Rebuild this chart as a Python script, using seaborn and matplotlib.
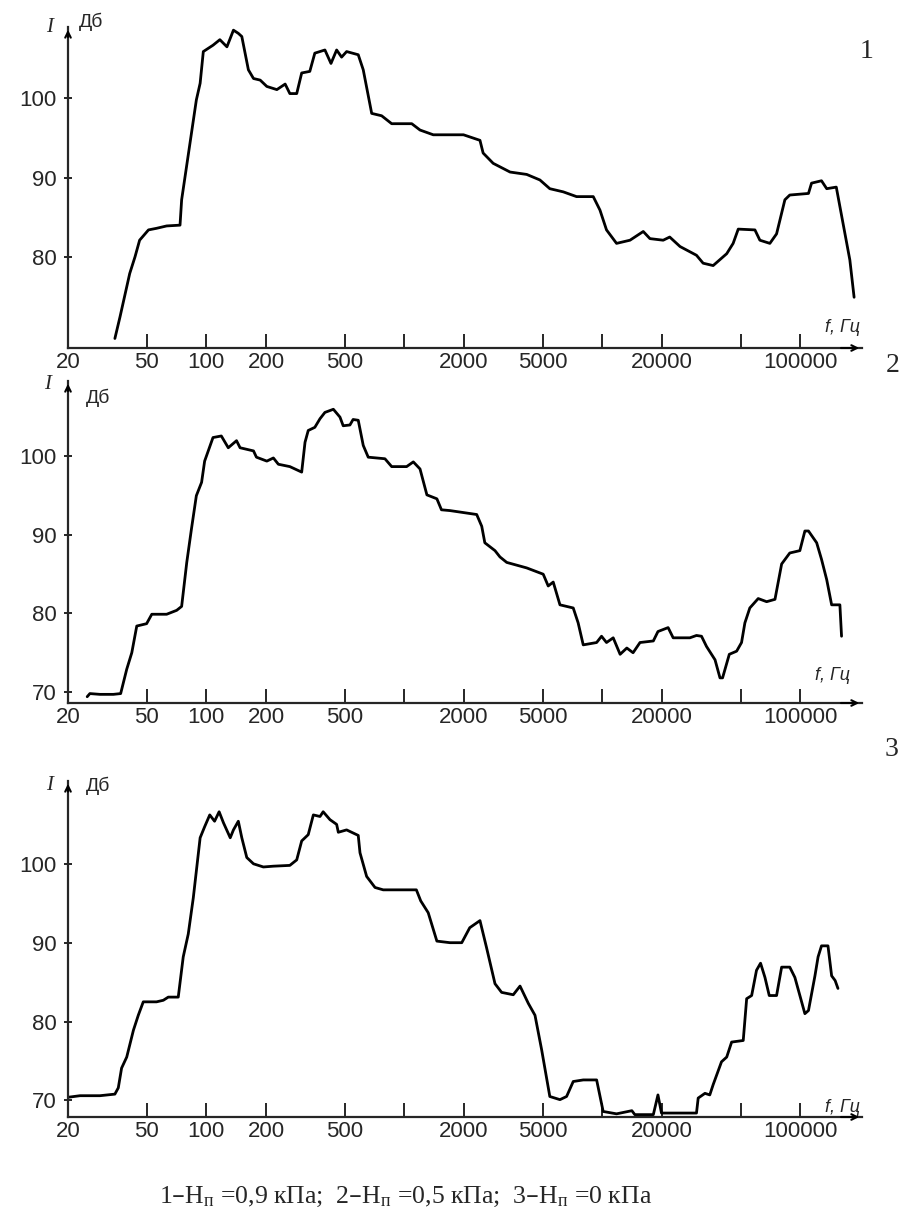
import numpy as np
import seaborn as sns
import matplotlib.pyplot as plt
import matplotlib.ticker as mticker

# =============================================================================
# data (frequency, Hz / level, dB)
f1 = [34.5, 36.6, 41, 43.6, 46, 51, 56, 63, 73.6, 75, 82.6, 89, 93, 96.5, 108,
      117, 127, 137, 145, 151, 163, 173, 187, 202, 227, 250, 264, 286, 303, 333,
      353, 397, 426, 455, 482, 511, 585, 620, 684, 768, 863, 1090, 1200, 1400, 1700,
      1990, 2410, 2500, 2810, 3420, 4150, 4840, 5430, 6350, 7410, 9000, 9730, 10500,
      11800, 13800, 16100, 17400, 20300, 21900, 24700, 29900, 32300, 36300, 42500,
      45800, 48600, 59000, 62500, 70200, 75900, 83600, 88500, 110000, 114000, 128000,
      136000, 152000, 178000, 187000]
I1 = [69.7, 72.4, 77.9, 80.0, 82.1, 83.4, 83.6, 83.9, 84.0, 87.2, 94.3, 99.8, 101.9, 105.9, 106.7,
      107.4, 106.5, 108.6, 108.2, 107.8, 103.6, 102.5, 102.3, 101.5, 101.1, 101.8, 100.6, 100.6, 103.2, 103.4,
      105.7, 106.1, 104.4, 106.1, 105.2, 105.9, 105.5, 103.6, 98.1, 97.8, 96.8, 96.8, 96.0, 95.4, 95.4,
      95.4, 94.7, 93.1, 91.8, 90.7, 90.4, 89.7, 88.6, 88.2, 87.6, 87.6, 85.9, 83.4,
      81.7, 82.1, 83.2, 82.3, 82.1, 82.5, 81.3, 80.2, 79.2, 78.9, 80.4,
      81.7, 83.5, 83.4, 82.1, 81.7, 82.9, 87.2, 87.8, 88.0, 89.3, 89.6,
      88.6, 88.8, 79.6, 74.9]

f2 = [25, 25.8, 29, 33.9, 36.9, 39.6, 42, 44.5, 49.9, 53, 63, 70.8, 75, 79.6, 84,
      89, 94.6, 98, 108, 119, 129, 142, 148, 173, 179, 202, 218, 231, 264, 303,
      315, 327, 353, 375, 397, 438, 473, 491, 531, 551, 585, 620, 657, 798, 863,
      1027, 1110, 1200, 1300, 1460, 1540, 1700, 2320, 2460, 2550, 2870, 3040, 3290,
      4150, 5030, 5330, 5650, 6110, 7130, 7550, 8010, 9360, 9910, 10500, 11350,
      12300, 13300, 14300, 15500, 18100, 19100, 21500, 22800, 27700, 29900, 31700,
      33600, 37100, 39300, 40500, 43800, 47700, 50500, 52500, 55600, 61300, 67600,
      74500, 80500, 88500, 99500, 105500, 110000, 121000, 128000, 136000, 144000,
      158500, 161600]
I2 = [69.4, 69.8, 69.7, 69.7, 69.8, 72.9, 75.0, 78.4, 78.7, 79.9, 79.9, 80.4, 80.9, 86.5, 90.7,
      95.0, 96.7, 99.4, 102.4, 102.6, 101.1, 102.0, 101.1, 100.7, 99.9, 99.4, 99.8, 99.0, 98.7, 98.0,
      101.8, 103.3, 103.7, 104.8, 105.6, 106.0, 105.0, 103.9, 104.0, 104.7, 104.6, 101.4, 99.9, 99.7, 98.7,
      98.7, 99.3, 98.4, 95.1, 94.6, 93.2, 93.1, 92.6, 91.1, 89.0, 88.0, 87.2, 86.5,
      85.8, 85.0, 83.5, 84.0, 81.1, 80.7, 78.8, 76.0, 76.3, 77.1, 76.3, 76.9,
      74.8, 75.6, 75.0, 76.3, 76.5, 77.7, 78.2, 76.9, 76.9, 77.2, 77.1,
      75.8, 74.1, 71.8, 71.8, 74.8, 75.2, 76.3, 78.8, 80.7, 81.9, 81.5,
      81.8, 86.3, 87.7, 88.0, 90.5, 90.5, 89.0, 86.9, 84.3, 81.1,
      81.1, 77.1]

f3 = [20, 23, 29, 34.5, 35.9, 37.3, 39.6, 42.8, 45.3, 48, 56, 60.6, 64.2, 72.1, 76.4,
      81, 85.9, 93, 98, 104, 110, 116, 122, 132, 137, 145, 151, 160, 173, 194,
      218, 264, 286, 303, 327, 347, 375, 389, 421, 455, 464, 511, 585, 597, 645,
      711, 782, 1150, 1210, 1320, 1460, 1700, 1950, 2140, 2410, 2600, 2870, 3100,
      3550, 3840, 4230, 4570, 4940, 5430, 6110, 6600, 7130, 8010, 9360, 10100,
      11800, 14100, 14600, 18100, 19100, 19900, 29900, 30500, 33000, 34900, 36300,
      40000, 42500, 45000, 51500, 53600, 56800, 60100, 63000, 66300, 69700, 75900,
      80500, 88500, 93900, 105500, 110000, 118600, 123000, 128000, 138000, 144000,
      150000, 155000]
I3 = [70.4, 70.6, 70.6, 70.8, 71.6, 74.1, 75.5, 78.9, 80.8, 82.5, 82.5, 82.7, 83.1, 83.1, 88.2,
      91.1, 95.7, 103.3, 104.7, 106.2, 105.4, 106.6, 105.2, 103.3, 104.3, 105.4, 103.3, 100.8, 100.0, 99.6,
      99.7, 99.8, 100.5, 102.9, 103.7, 106.2, 106.0, 106.6, 105.6, 105.0, 104.0, 104.3, 103.6, 101.4, 98.4,
      97.0, 96.7, 96.7, 95.3, 93.8, 90.2, 90.0, 90.0, 91.9, 92.8, 89.4, 84.8, 83.7,
      83.4, 84.5, 82.3, 80.8, 76.4, 70.5, 70.1, 70.5, 72.4, 72.6, 72.6, 68.6,
      68.3, 68.7, 68.2, 68.2, 70.7, 68.4, 68.4, 70.3, 70.9, 70.7, 72.0,
      74.9, 75.5, 77.4, 77.6, 82.9, 83.3, 86.5, 87.4, 85.6, 83.3, 83.3,
      86.9, 86.9, 85.6, 81.0, 81.4, 85.8, 88.2, 89.6, 89.6, 85.8,
      85.2, 84.2]

x_ticks = [20, 50, 100, 200, 500, 1000, 2000, 5000, 10000, 20000, 50000, 100000]
x_labels = ['20', '50', '100', '200', '500', '', '2000', '5000', '', '20000', '', '100000']
y_ticks = [[80, 90, 100], [70, 80, 90, 100], [70, 80, 90, 100]]
caption = ('1–Н$_{\\mathregular{п}}$ =0,9 кПа;  2–Н$_{\\mathregular{п}}$ =0,5 кПа;  '
           '3–Н$_{\\mathregular{п}}$ =0 кПа')

# =============================================================================
sns.set_style('ticks')
plt.rcParams['font.family'] = ['Liberation Sans', 'DejaVu Sans']
plt.rcParams['mathtext.default'] = 'regular'

W, H = 903, 1213
fig = plt.figure(figsize=(W / 100, H / 100), dpi=100)


def px(x, y):
    return x / W, 1 - y / H


# axes boxes in pixels: left, top, right, bottom
boxes = [(68, 27, 862, 348), (68, 381, 862, 703), (68, 781, 862, 1117)]
ylims = [(68.5, 109.0), (68.6, 109.6), (67.9, 110.5)]
series = [(f1, I1), (f2, I2), (f3, I3)]

for k, ((l, t, r, b), (fx, iy)) in enumerate(zip(boxes, series)):
    ax = fig.add_axes([l / W, 1 - b / H, (r - l) / W, (b - t) / H])
    sns.lineplot(x=np.array(fx), y=np.array(iy), ax=ax, color='black', lw=2.0,
                 estimator=None, sort=False)
    ax.set_xscale('log')
    ax.set_xlim(20, 2.05e5)
    ax.set_ylim(*ylims[k])
    ax.set_xticks(x_ticks)
    ax.set_xticklabels(x_labels)
    ax.xaxis.set_minor_locator(mticker.NullLocator())
    ax.set_yticks(y_ticks[k])
    ax.tick_params(axis='x', direction='in', length=10, width=1.4, labelsize=16, pad=3)
    ax.tick_params(axis='y', direction='inout', length=6, width=1.4, labelsize=16, pad=5)
    sns.despine(ax=ax)
    for s in ['left', 'bottom']:
        ax.spines[s].set_linewidth(1.6)
    ax.set_xlabel('')
    ax.set_ylabel('')
    # arrow heads on both axes
    ax.annotate('', xy=(0, 1.0), xytext=(0, 0.96), xycoords='axes fraction',
                arrowprops=dict(arrowstyle='->', lw=1.5, color='black'))
    ax.annotate('', xy=(1.0, 0), xytext=(0.97, 0), xycoords='axes fraction',
                arrowprops=dict(arrowstyle='->', lw=1.5, color='black'))

# axis captions
for (xi, yi), (xd, yd) in [((50, 28), (91, 22)), ((48, 384), (98, 398)), ((50, 785), (98, 786))]:
    fig.text(*px(xi, yi), 'I', family='Liberation Serif', style='italic', size=15,
             ha='center', va='center')
    fig.text(*px(xd, yd), 'Дб', size=14, ha='center', va='center')
for xf, yf in [(843, 327), (833, 675), (843, 1107)]:
    fig.text(*px(xf, yf), 'f, Гц', style='italic', size=13, ha='center', va='center')

# curve numbers
for num, (xn, yn) in zip(['1', '2', '3'], [(867, 52), (893, 365), (892, 750)]):
    fig.text(*px(xn, yn), num, family='Liberation Serif', size=20, ha='center', va='center')

fig.text(*px(406, 1197), caption, family='Liberation Serif', size=18.5,
         ha='center', va='center')

plt.savefig('out.png', dpi=100)
